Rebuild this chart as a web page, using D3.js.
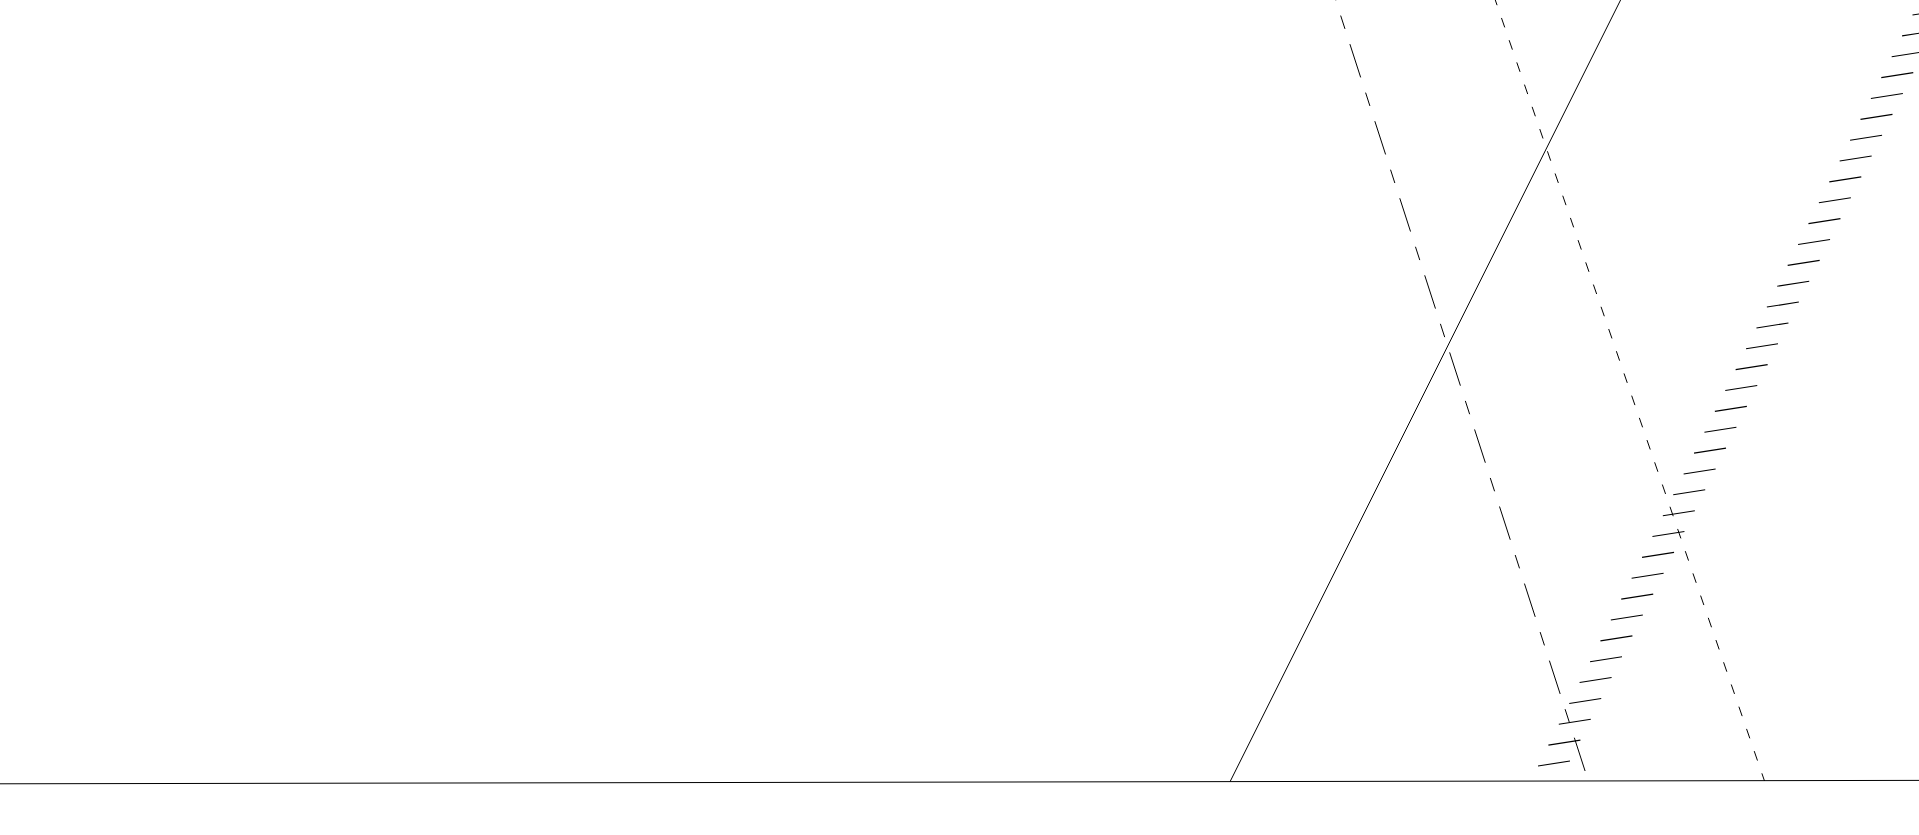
<!DOCTYPE html>
<html>
<head>
<meta charset="utf-8">
<script src="https://cdn.jsdelivr.net/npm/d3@7"></script>
<style>
  html, body { margin: 0; padding: 0; background: #fff; overflow: hidden; }
  svg { display: block; }
</style>
</head>
<body>
<svg id="chart" width="1919" height="835"></svg>
<script>
// ---- data (x / y in chart units) ----
const baseline   = [{x: 0, y: -0.36}, {x: 100, y: 0.08}];
const solidLine  = [{x: 64.1, y: -0.08}, {x: 84.45, y: 100}];
const longDash   = [{x: 82.6, y: 1.28}, {x: 69.6, y: 100}];
const shortDash  = [{x: 77.92, y: 100}, {x: 91.95, y: 0}];
const hatched    = [{x: 80.98, y: 2.24}, {x: 100.82, y: 100}];

const W = 1919, H = 835;
const svg = d3.select("#chart");

const x = d3.scaleLinear().domain([0, 100]).range([0, W]);
const y = d3.scaleLinear().domain([0, 100]).range([781, 0]);

const line = d3.line().x(d => x(d.x)).y(d => y(d.y));

const g = svg.append("g");

g.append("path").datum(baseline)
  .attr("d", line).attr("fill", "none")
  .attr("stroke", "#000").attr("stroke-width", 1);

g.append("path").datum(solidLine)
  .attr("d", line).attr("fill", "none")
  .attr("stroke", "#000").attr("stroke-width", 1);

g.append("path").datum(longDash)
  .attr("d", line).attr("fill", "none")
  .attr("stroke", "#000").attr("stroke-width", 1)
  .attr("stroke-dasharray", "35,16,14,16");

g.append("path").datum(shortDash)
  .attr("d", line).attr("fill", "none")
  .attr("stroke", "#000").attr("stroke-width", 1)
  .attr("stroke-dasharray", "10,13.5")
  .attr("stroke-dashoffset", 4.5);

// hatched line: short slanted strokes placed along the series line
const hp0 = [x(hatched[0].x), y(hatched[0].y)];
const hp1 = [x(hatched[1].x), y(hatched[1].y)];
const hlen = Math.hypot(hp1[0] - hp0[0], hp1[1] - hp0[1]);
const ux = (hp1[0] - hp0[0]) / hlen, uy = (hp1[1] - hp0[1]) / hlen;
const hatchStep = 23.31;
const hatchVec = [32, -5];
const hatchIdx = d3.range(Math.floor(hlen / hatchStep) + 1);

g.append("g").selectAll("line").data(hatchIdx).join("line")
  .attr("x1", k => hp0[0] + ux * hatchStep * k - hatchVec[0] / 2)
  .attr("y1", k => hp0[1] + uy * hatchStep * k - hatchVec[1] / 2)
  .attr("x2", k => hp0[0] + ux * hatchStep * k + hatchVec[0] / 2)
  .attr("y2", k => hp0[1] + uy * hatchStep * k + hatchVec[1] / 2)
  .attr("stroke", "#000").attr("stroke-width", 1.1);
</script>
</body>
</html>
